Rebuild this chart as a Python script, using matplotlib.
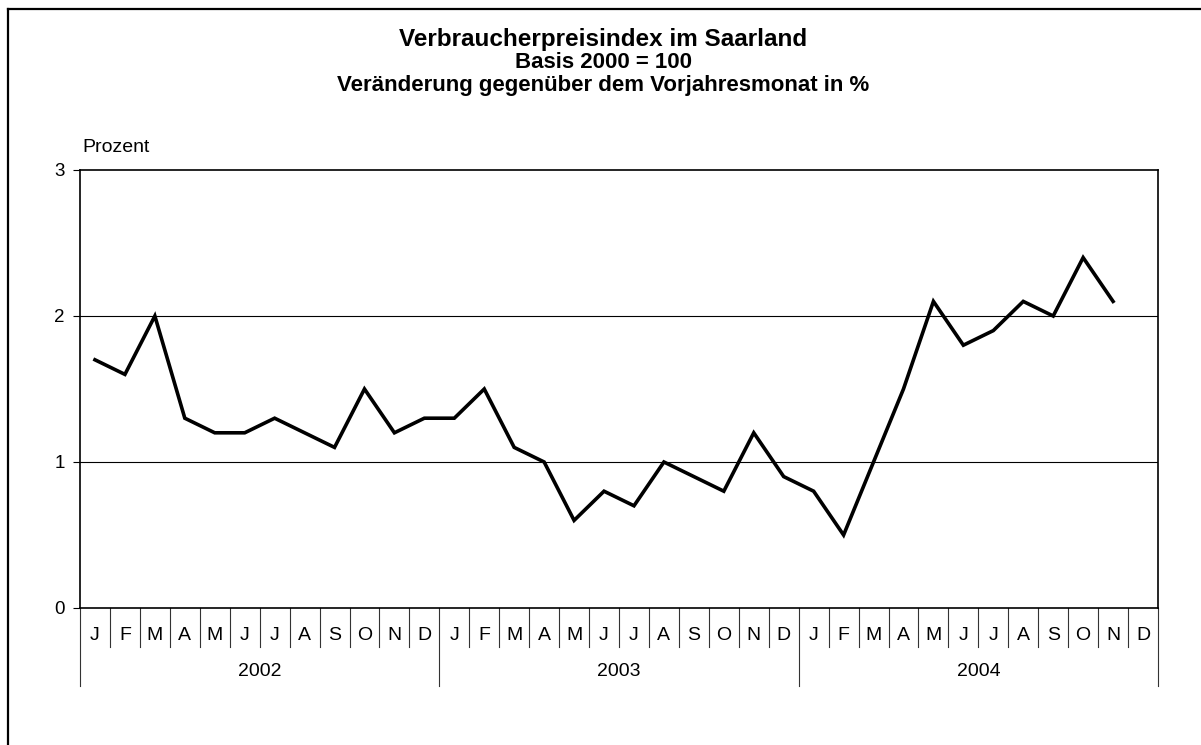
import matplotlib
matplotlib.use("Agg")
import matplotlib.pyplot as plt
from matplotlib.lines import Line2D
import matplotlib.transforms as mtransforms

plt.rcParams['font.family'] = ['Liberation Sans', 'DejaVu Sans']

years = ["2002", "2003", "2004"]
months = ["J", "F", "M", "A", "M", "J", "J", "A", "S", "O", "N", "D"]
values_2002 = [1.7, 1.6, 2.0, 1.3, 1.2, 1.2, 1.3, 1.2, 1.1, 1.5, 1.2, 1.3]
values_2003 = [1.3, 1.5, 1.1, 1.0, 0.6, 0.8, 0.7, 1.0, 0.9, 0.8, 1.2, 0.9]
values_2004 = [0.8, 0.5, 1.0, 1.5, 2.1, 1.8, 1.9, 2.1, 2.0, 2.4, 2.1, None]
title_lines = ["Verbraucherpreisindex im Saarland", "Basis 2000 = 100",
               "Veränderung gegenüber dem Vorjahresmonat in %"]
y_label = "Prozent"
y_ticks = [0, 1, 2, 3]

W, H = 1201, 745
fig = plt.figure(figsize=(W / 100, H / 100), dpi=100)
fig.patch.set_facecolor("white")

L, R, T, B = 80, 1158, 170, 608
ax = fig.add_axes([L / W, 1 - B / H, (R - L) / W, (B - T) / H])

series = values_2002 + values_2003 + values_2004
xs = [i for i, v in enumerate(series) if v is not None]
ys = [v for v in series if v is not None]
n = len(series)

for g in [1, 2]:
    ax.axhline(g, color="black", lw=0.8, zorder=1)
ax.plot(xs, ys, color="black", lw=2.6, solid_joinstyle="miter", zorder=3)

ax.set_xlim(-0.5, n - 0.5)
ax.set_ylim(0, 3)
ax.set_yticks(y_ticks)
ax.set_yticklabels([str(t) for t in y_ticks], fontsize=13.5)
ax.tick_params(axis="y", length=5, width=0.8, pad=6, direction="out")
ax.set_xticks([])
for s in ax.spines.values():
    s.set_linewidth(1.2)
    s.set_color("black")

axh = B - T
trans = mtransforms.blended_transform_factory(ax.transData, ax.transAxes)
# month separators
for k in range(n + 1):
    x = k - 0.5
    depth = 78 if k % 12 == 0 else 39
    ax.add_line(Line2D([x, x], [0, -depth / axh], transform=trans, color="#333333",
                       lw=0.8, clip_on=False))
labels = months * len(years)
for i, lab in enumerate(labels):
    ax.text(i, -27 / axh, lab, transform=trans, ha="center", va="center", fontsize=14)
for j, yr in enumerate(years):
    ax.text(j * 12 + 5.5, -64 / axh, yr, transform=trans, ha="center", va="center", fontsize=14)

fig.text(82 / W, 1 - 147 / H, y_label, ha="left", va="center", fontsize=14)

baselines = [46, 68, 91]
for line, by, fs in zip(title_lines, baselines, [17.5, 16, 16]):
    fig.text(603 / W, 1 - by / H, line, ha="center", va="baseline", fontsize=fs, fontweight="bold")

# outer frame (left and top visible)
fig.add_artist(Line2D([8 / W, 8 / W], [0, 1 - 9 / H], transform=fig.transFigure, color="black", lw=1.6))
fig.add_artist(Line2D([8 / W, 1], [1 - 9 / H, 1 - 9 / H], transform=fig.transFigure, color="black", lw=1.6))

fig.savefig("out.png", dpi=100, facecolor="white")
